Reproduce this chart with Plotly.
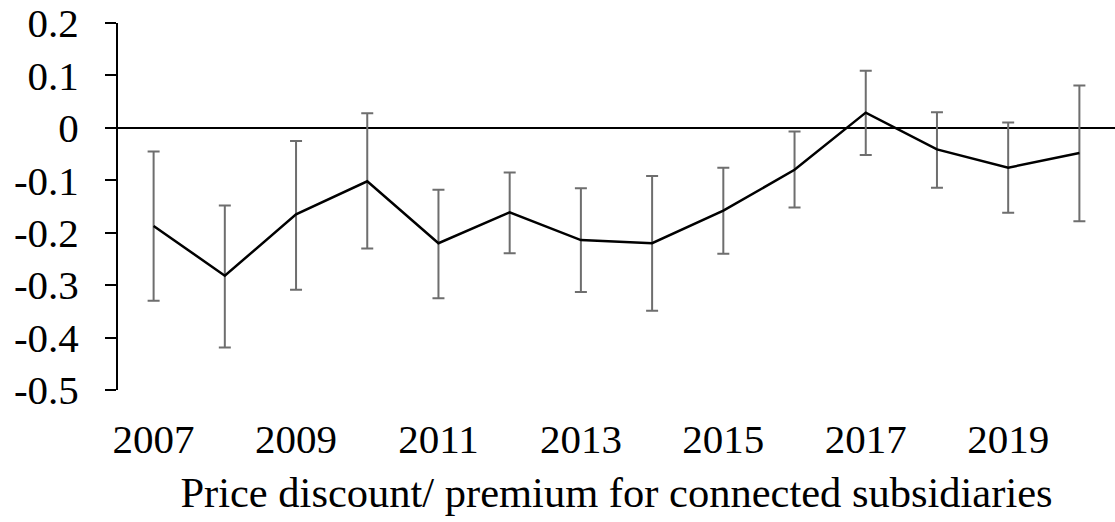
import plotly.graph_objects as go

years = [2007, 2008, 2009, 2010, 2011, 2012, 2013, 2014, 2015, 2016, 2017, 2018, 2019, 2020]
estimate = [-0.187, -0.282, -0.165, -0.102, -0.220, -0.161, -0.214, -0.220, -0.158, -0.080, 0.029, -0.041, -0.076, -0.048]
upper = [-0.045, -0.148, -0.025, 0.028, -0.118, -0.085, -0.115, -0.092, -0.076, -0.007, 0.109, 0.030, 0.010, 0.081]
lower = [-0.330, -0.419, -0.309, -0.230, -0.325, -0.239, -0.313, -0.349, -0.240, -0.152, -0.052, -0.114, -0.162, -0.178]

y_ticks = [0.2, 0.1, 0, -0.1, -0.2, -0.3, -0.4, -0.5]
y_tick_text = ["0.2", "0.1", "0", "-0.1", "-0.2", "-0.3", "-0.4", "-0.5"]
x_ticks = [2007, 2009, 2011, 2013, 2015, 2017, 2019]
x_title = "Price discount/ premium for connected subsidiaries"

err_plus = [u - e for u, e in zip(upper, estimate)]
err_minus = [e - l for e, l in zip(estimate, lower)]

FONT = "Liberation Serif, Times New Roman, serif"

fig = go.Figure()
fig.add_trace(go.Scatter(
    x=years, y=estimate, mode="lines",
    line=dict(color="black", width=2.5),
    error_y=dict(type="data", symmetric=False, array=err_plus, arrayminus=err_minus,
                 color="#6e6e6e", thickness=2, width=6),
    showlegend=False,
))

fig.update_layout(
    width=1115, height=522,
    margin=dict(l=118, r=0, t=23, b=132),
    paper_bgcolor="white", plot_bgcolor="white",
    font=dict(family=FONT, size=41, color="black"),
    xaxis=dict(
        range=[2006.5, 2020.5],
        tickvals=x_ticks, ticktext=[str(v) for v in x_ticks],
        showline=False, showgrid=False, zeroline=False, ticks="",
        ticklabelstandoff=21,
        title=dict(text=x_title, font=dict(size=42.5), standoff=16),
    ),
    yaxis=dict(
        range=[-0.5, 0.2],
        tickvals=y_ticks, ticktext=y_tick_text,
        showline=True, linecolor="black", linewidth=2,
        ticks="outside", ticklen=11, tickwidth=2, tickcolor="black",
        showgrid=False,
        zeroline=True, zerolinecolor="black", zerolinewidth=2,
        ticklabelstandoff=18,
    ),
)

fig.write_html("out.html")
